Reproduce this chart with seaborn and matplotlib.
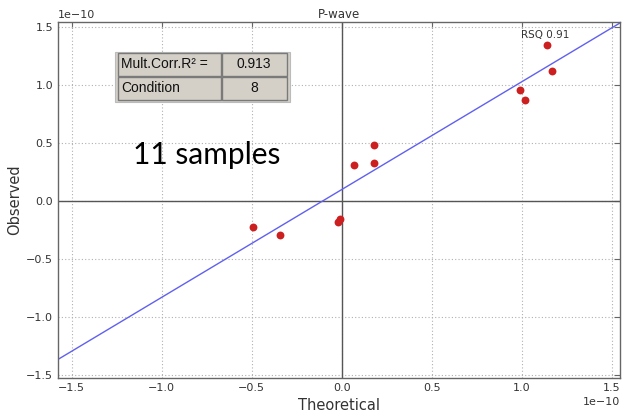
import matplotlib
matplotlib.use("Agg")
import matplotlib.pyplot as plt
import seaborn as sns
import pandas as pd
from matplotlib.patches import Rectangle

# ---- data (units of 1e-10) ----
theoretical = [1.14, 1.17, 0.99, 1.02, 0.18, 0.07, 0.18, -0.01, -0.02, -0.49, -0.34]
observed = [1.35, 1.12, 0.96, 0.87, 0.48, 0.31, 0.33, -0.15, -0.18, -0.22, -0.29]
scale = 1e-10
fit_slope = 0.93
fit_intercept = 0.10
table_labels = ["Mult.Corr.R\u00b2 =", "Condition"]
table_values = ["0.913", "8"]
rsq_text = "RSQ 0.91"
title = "P-wave"
note = "11 samples"
ticks = [-1.5, -1.0, -0.5, 0.0, 0.5, 1.0, 1.5]

df = pd.DataFrame({"Theoretical": [v * scale for v in theoretical],
                   "Observed": [v * scale for v in observed]})

sns.set_style("white")
plt.rcParams["font.family"] = ["DejaVu Sans"]

W, H = 624, 418
fig = plt.figure(figsize=(W / 100, H / 100), dpi=100)
ax = fig.add_axes([58 / W, 1 - 378 / H, (620 - 58) / W, (378 - 22) / H])

ax.set_xlim(-1.575 * scale, 1.545 * scale)
ax.set_ylim(-1.525 * scale, 1.545 * scale)
ax.set_xticks([t * scale for t in ticks])
ax.set_yticks([t * scale for t in ticks])

ax.grid(True, linestyle=(0, (1, 2)), color="#b0b0b0", linewidth=0.8)
ax.axhline(0, color="#555555", linewidth=1.0, zorder=1)
ax.axvline(0, color="#555555", linewidth=1.0, zorder=1)
ax.axline((0, fit_intercept * scale), slope=fit_slope, color="#6060f0", linewidth=1.0, zorder=2)

sns.scatterplot(data=df, x="Theoretical", y="Observed", ax=ax, color="#cc1f1f",
                s=32, edgecolor="#cc1f1f", linewidth=0, zorder=3)

for s in ax.spines.values():
    s.set_color("#666666")
    s.set_linewidth(1.0)
ax.tick_params(direction="in", top=True, right=True, length=4, color="#666666",
               labelsize=8, labelcolor="#333333")
ax.xaxis.get_offset_text().set_fontsize(8)
ax.xaxis.get_offset_text().set_color("#333333")
ax.yaxis.get_offset_text().set_fontsize(8)
ax.yaxis.get_offset_text().set_color("#333333")

ax.set_xlabel("Theoretical", fontsize=10.5, color="#333333", labelpad=4)
ax.set_ylabel("Observed", fontsize=10.5, color="#333333", labelpad=3)
ax.set_title(title, fontsize=8.5, color="#333333", pad=3)

ax.text(1.13 * scale, 1.43 * scale, rsq_text, fontsize=7.5, color="#333333", ha="center", va="center")

def fx(x):
    return x / W

def fy(y):
    return 1 - y / H

# table
bg = Rectangle((fx(115), fy(102)), fx(175), 50 / H, transform=fig.transFigure,
               facecolor="#d4d0c8", edgecolor="#bbbbbb", linewidth=0.8, zorder=5)
fig.add_artist(bg)
rows_y = [(53, 76), (77, 100)]
cols_x = [(118, 221), (222, 287)]
for r, (y0, y1) in enumerate(rows_y):
    for c, (x0, x1) in enumerate(cols_x):
        cell = Rectangle((fx(x0), fy(y1)), fx(x1 - x0), (y1 - y0) / H, transform=fig.transFigure,
                         facecolor="#d4d0c8", edgecolor="#7a7a7a", linewidth=1.0, zorder=6)
        fig.add_artist(cell)
    fig.text(fx(121), fy((y0 + y1) / 2), table_labels[r], fontsize=10, family="Liberation Sans",
             ha="left", va="center", color="#111111", zorder=7)
    fig.text(fx(254), fy((y0 + y1) / 2), table_values[r], fontsize=10, family="Liberation Sans",
             ha="center", va="center", color="#111111", zorder=7)

fig.text(fx(133), fy(155), note, fontsize=21.5, family="Lato", ha="left", va="center", color="black")

fig.savefig("out.png", dpi=100, facecolor="white")
